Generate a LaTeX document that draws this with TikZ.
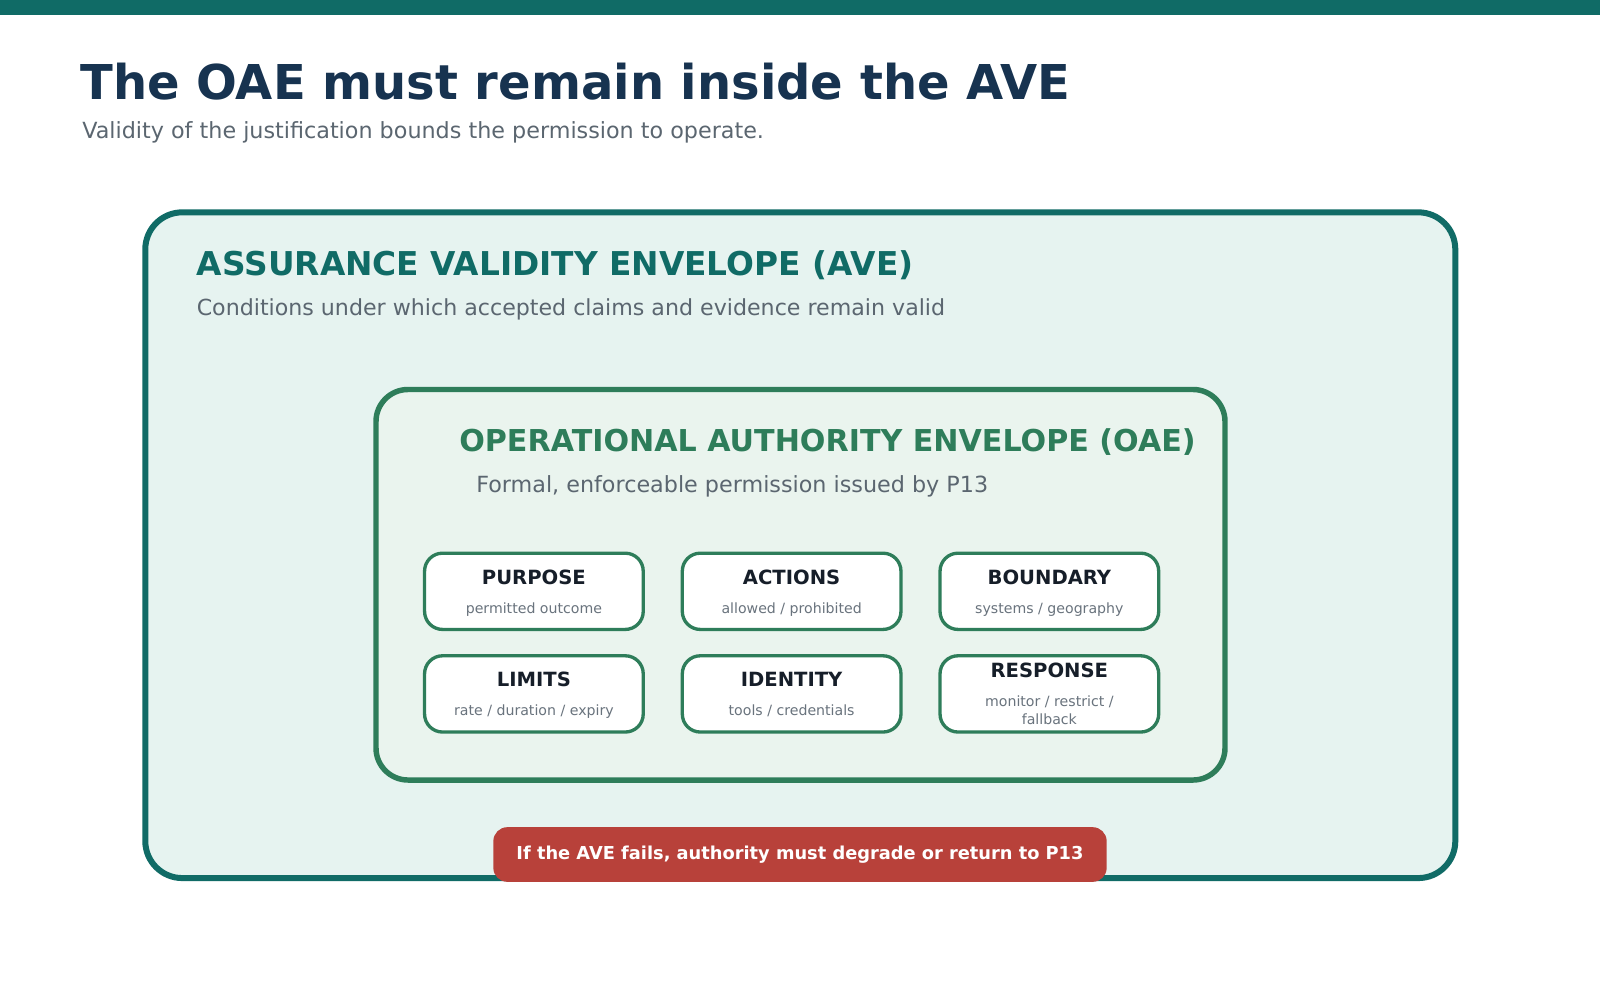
\documentclass[tikz,border=0pt]{standalone}
\usepackage{fontspec}
\setmainfont{DejaVu Sans}
\usetikzlibrary{positioning}

\definecolor{avecol}{HTML}{106B66}
\definecolor{avefill}{HTML}{E6F3F0}
\definecolor{oaecol}{HTML}{2E7D5A}
\definecolor{oaefill}{HTML}{EAF4EE}
\definecolor{titlecol}{HTML}{173350}
\definecolor{mutedcol}{HTML}{5B6670}
\definecolor{fieldcol}{HTML}{161E29}
\definecolor{fieldsub}{HTML}{69737D}
\definecolor{alertcol}{HTML}{B8413A}

\begin{document}
\begin{tikzpicture}[x=0.75pt, y=-0.75pt,
heading/.style={anchor=base west, inner sep=0pt, font=\bfseries\fontsize{36}{44}\selectfont, text=titlecol},
subheading/.style={anchor=base west, inner sep=0pt, font=\fontsize{16.7}{20}\selectfont, text=mutedcol},
avebox/.style={draw=avecol, fill=avefill, line width=4.5pt, rounded corners=27.75pt, minimum width=982.5pt, minimum height=499.3pt},
oaebox/.style={draw=oaecol, fill=oaefill, line width=4.1pt, rounded corners=24pt, minimum width=636.75pt, minimum height=292.9pt},
field/.style={draw=oaecol, fill=white, line width=2.5pt, rounded corners=13.5pt, minimum width=164pt, minimum height=57.2pt},
fieldhead/.style={anchor=base, inner sep=0pt, font=\bfseries\fontsize{14.7}{17}\selectfont, text=fieldcol},
fieldnote/.style={anchor=base, inner sep=0pt, align=center, font=\fontsize{10.6}{13}\selectfont, text=fieldsub},
alert/.style={fill=alertcol, rounded corners=10.5pt, minimum width=460pt, minimum height=41pt, text=white, font=\bfseries\fontsize{13.35}{16}\selectfont, text height=0.73em, text depth=0pt}
]
\useasboundingbox (0,0) rectangle (1600,996);
\fill[white] (0,0) rectangle (1600,996);
\fill[avecol] (0,0) rectangle (1600,15);

%create nodes
\node[heading] (title) at (80,99.5) {The OAE must remain inside the AVE};
\node[subheading] (subtitle) at (82,138.3) {Validity of the justification bounds the permission to operate.};

\node[avebox] (ave) at (800.3,545.2) {};
\node[heading, font=\bfseries\fontsize{24.6}{30}\selectfont, text=avecol] (avetitle) at (196.7,275.7) {ASSURANCE VALIDITY ENVELOPE (AVE)};
\node[subheading, font=\fontsize{16.6}{20}\selectfont] (avesub) at (196.5,315) {Conditions under which accepted claims and evidence remain valid};

\node[oaebox] (oae) at (800.5,584.75) {};
\node[heading, font=\bfseries\fontsize{22.6}{27}\selectfont, text=oaecol] (oaetitle) at (459,451) {OPERATIONAL AUTHORITY ENVELOPE (OAE)};
\node[subheading, font=\fontsize{16.7}{20}\selectfont] (oaesub) at (476,492.7) {Formal, enforceable permission issued by P13};

\node[field] (purpose) at (533.9,591.3) {};
\node[field, right=26.8pt of purpose] (actions) {};
\node[field, right=26.8pt of actions] (boundary) {};
\node[field, below=17.25pt of purpose] (limits) {};
\node[field, right=26.8pt of limits] (identity) {};
\node[field, right=26.8pt of identity] (response) {};

\node[fieldhead] (purposeh) at ([yshift=5.25pt]purpose.center) {PURPOSE};
\node[fieldnote] (purposen) at ([yshift=-16.5pt]purpose.center) {permitted outcome};
\node[fieldhead] (actionsh) at ([yshift=5.25pt]actions.center) {ACTIONS};
\node[fieldnote] (actionsn) at ([yshift=-16.5pt]actions.center) {allowed / prohibited};
\node[fieldhead] (boundaryh) at ([yshift=5.25pt]boundary.center) {BOUNDARY};
\node[fieldnote] (boundaryn) at ([yshift=-16.5pt]boundary.center) {systems / geography};
\node[fieldhead] (limitsh) at ([yshift=5.25pt]limits.center) {LIMITS};
\node[fieldnote] (limitsn) at ([yshift=-16.5pt]limits.center) {rate / duration / expiry};
\node[fieldhead] (identityh) at ([yshift=5.25pt]identity.center) {IDENTITY};
\node[fieldnote] (identityn) at ([yshift=-16.5pt]identity.center) {tools / credentials};
\node[fieldhead] (responseh) at ([yshift=12pt]response.center) {RESPONSE};
\node[fieldnote] (responsen) at ([yshift=-22.75pt]response.center) {monitor / restrict /\\fallback};

\node[alert] (failnote) at (800,854.5) {If the AVE fails, authority must degrade or return to P13};

\end{tikzpicture}
\end{document}
